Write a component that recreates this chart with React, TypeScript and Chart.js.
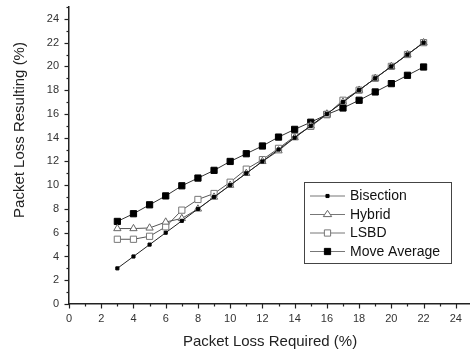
import React, { useEffect, useRef } from 'react';
import { Chart, registerables } from 'chart.js';

Chart.register(...registerables);

const packetLossRequired = [3, 4, 5, 6, 7, 8, 9, 10, 11, 12, 13, 14, 15, 16, 17, 18, 19, 20, 21, 22];
const bisection = [3, 4, 5, 6, 7, 8, 9, 10, 11, 12, 13, 14, 15, 16, 17, 18, 19, 20, 21, 22];
const hybrid = [6.35, 6.35, 6.4, 6.9, 7.2, 8.0, 9.0, 10.0, 11.0, 12.0, 12.9, 14.0, 15.0, 16.0, 17.0, 18.0, 19.0, 20.0, 21.0, 22.0];
const lsbd = [5.45, 5.45, 5.7, 6.5, 7.9, 8.8, 9.3, 10.25, 11.35, 12.15, 13.1, 14.1, 14.95, 15.95, 17.15, 18.0, 19.0, 20.0, 21.0, 22.0];
const moveAverage = [6.95, 7.6, 8.35, 9.1, 9.95, 10.6, 11.25, 12.0, 12.65, 13.3, 14.05, 14.7, 15.3, 15.95, 16.5, 17.15, 17.85, 18.55, 19.25, 19.95];

const seriesNames = ['Bisection', 'Hybrid', 'LSBD', 'Move Average'];
const xTickLabels = [0, 2, 4, 6, 8, 10, 12, 14, 16, 18, 20, 22, 24];
const yTickLabels = [0, 2, 4, 6, 8, 10, 12, 14, 16, 18, 20, 22, 24];
const xTitle = 'Packet Loss Required (%)';
const yTitle = 'Packet Loss Resulting (%)';

const FONT = '"Liberation Sans", Arial, Helvetica, sans-serif';
const X_MAX = 24.88;
const Y_MAX = 25;

function drawMarker(ctx: CanvasRenderingContext2D, ds: any, x: number, y: number) {
  const r = ds.pointRadius;
  ctx.save();
  ctx.fillStyle = ds.pointBackgroundColor;
  ctx.strokeStyle = ds.pointBorderColor;
  ctx.lineWidth = ds.pointBorderWidth;
  ctx.beginPath();
  if (ds.pointStyle === 'triangle') {
    const h = r * 1.5;
    const w = r * Math.sqrt(3) / 2;
    ctx.moveTo(x, y - r);
    ctx.lineTo(x + w * 1.15, y + h - r);
    ctx.lineTo(x - w * 1.15, y + h - r);
    ctx.closePath();
  } else {
    const s = Math.SQRT1_2 * r;
    ctx.rect(x - s, y - s, 2 * s, 2 * s);
  }
  ctx.fill();
  ctx.stroke();
  ctx.restore();
}

const decorPlugin = {
  id: 'decor',
  afterDraw(chart: any) {
    const ctx: CanvasRenderingContext2D = chart.ctx;
    const xs = chart.scales.x;
    const ys = chart.scales.y;
    ctx.save();
    // tick marks (major on even values, minor on odd)
    ctx.strokeStyle = '#222';
    ctx.lineWidth = 1.2;
    for (let v = 0; v <= 25; v++) {
      const len = v % 2 === 0 ? 4.5 : 2.5;
      if (v <= X_MAX) {
        const px = Math.round(xs.getPixelForValue(v)) + 0.5;
        ctx.beginPath();
        ctx.moveTo(px, ys.bottom);
        ctx.lineTo(px, ys.bottom + len);
        ctx.stroke();
      }
      if (v <= Y_MAX) {
        const py = Math.round(ys.getPixelForValue(v)) + 0.5;
        ctx.beginPath();
        ctx.moveTo(xs.left, py);
        ctx.lineTo(xs.left - len, py);
        ctx.stroke();
      }
    }
    // axis titles
    ctx.fillStyle = '#222';
    ctx.font = `15px ${FONT}`;
    ctx.textAlign = 'center';
    ctx.textBaseline = 'middle';
    ctx.fillText(xTitle, 270, 342);
    ctx.save();
    ctx.translate(20, 130);
    ctx.rotate(-Math.PI / 2);
    ctx.fillText(yTitle, 0, 0);
    ctx.restore();
    // legend
    const bx = 304.5, by = 182.5, bw = 147, bh = 81;
    ctx.fillStyle = '#fff';
    ctx.fillRect(bx, by, bw, bh);
    ctx.strokeStyle = '#444';
    ctx.lineWidth = 1;
    ctx.strokeRect(bx, by, bw, bh);
    const rowY = [196, 214.5, 233, 251.5];
    chart.data.datasets.forEach((ds: any, i: number) => {
      const y = rowY[i];
      ctx.strokeStyle = '#777';
      ctx.lineWidth = 1;
      ctx.beginPath();
      ctx.moveTo(310, y);
      ctx.lineTo(345, y);
      ctx.stroke();
      drawMarker(ctx, ds, 327.5, y);
      ctx.fillStyle = '#111';
      ctx.font = `14px ${FONT}`;
      ctx.textAlign = 'left';
      ctx.textBaseline = 'middle';
      ctx.fillText(ds.label, 350, y + 0.5);
    });
    ctx.restore();
  },
};

const zeroPad = (s: any) => {
  s.paddingTop = 0;
  s.paddingBottom = 0;
  s.paddingLeft = 0;
  s.paddingRight = 0;
};

export default function App() {
  const canvasRef = useRef<HTMLCanvasElement | null>(null);

  useEffect(() => {
    const canvas = canvasRef.current;
    if (!canvas) return;
    const mk = (ys: number[]) => packetLossRequired.map((x, i) => ({ x, y: ys[i] }));
    const chart = new Chart(canvas, {
      type: 'line',
      data: {
        datasets: [
          {
            label: seriesNames[0],
            data: mk(bisection),
            borderColor: '#222',
            borderWidth: 1,
            pointStyle: 'rect',
            pointRadius: 2.2,
            pointBackgroundColor: '#000',
            pointBorderColor: '#000',
            pointBorderWidth: 1,
          },
          {
            label: seriesNames[1],
            data: mk(hybrid),
            borderColor: '#555',
            borderWidth: 1,
            pointStyle: 'triangle',
            pointRadius: 4.2,
            pointBackgroundColor: '#fff',
            pointBorderColor: '#666',
            pointBorderWidth: 1,
          },
          {
            label: seriesNames[2],
            data: mk(lsbd),
            borderColor: '#555',
            borderWidth: 1,
            pointStyle: 'rect',
            pointRadius: 4.4,
            pointBackgroundColor: '#fff',
            pointBorderColor: '#777',
            pointBorderWidth: 1,
          },
          {
            label: seriesNames[3],
            data: mk(moveAverage),
            borderColor: '#333',
            borderWidth: 1,
            pointStyle: 'rect',
            pointRadius: 4.4,
            pointBackgroundColor: '#000',
            pointBorderColor: '#000',
            pointBorderWidth: 1,
          },
        ],
      },
      options: {
        animation: false,
        responsive: false,
        maintainAspectRatio: false,
        layout: { autoPadding: false, padding: { top: 7, right: 0, left: 0, bottom: 0 } },
        plugins: {
          legend: { display: false },
          tooltip: { enabled: false },
          title: { display: false },
        },
        scales: {
          x: {
            type: 'linear',
            min: 0,
            max: X_MAX,
            afterBuildTicks: (s: any) => { s.ticks = xTickLabels.map((v) => ({ value: v })); },
            afterFit: (s: any) => { s.height = 50; zeroPad(s); },
            grid: { display: true, drawOnChartArea: false, drawTicks: false },
            border: { display: true, color: '#222', width: 1.5 },
            ticks: {
              autoSkip: false,
              maxRotation: 0,
              padding: 8,
              color: '#333',
              font: { size: 11, family: FONT },
            },
          },
          y: {
            type: 'linear',
            min: 0,
            max: Y_MAX,
            afterBuildTicks: (s: any) => { s.ticks = yTickLabels.map((v) => ({ value: v })); },
            afterFit: (s: any) => { s.width = 69; zeroPad(s); },
            grid: { display: true, drawOnChartArea: false, drawTicks: false },
            border: { display: true, color: '#222', width: 1.5 },
            ticks: {
              autoSkip: false,
              padding: 10,
              color: '#333',
              font: { size: 11, family: FONT },
            },
          },
        },
      },
      plugins: [decorPlugin],
    } as any);
    return () => chart.destroy();
  }, []);

  return (
    <div style={{ position: 'absolute', left: 0, top: 0, width: 470, height: 354, background: '#fff' }}>
      <canvas ref={canvasRef} width={470} height={354} />
    </div>
  );
}
